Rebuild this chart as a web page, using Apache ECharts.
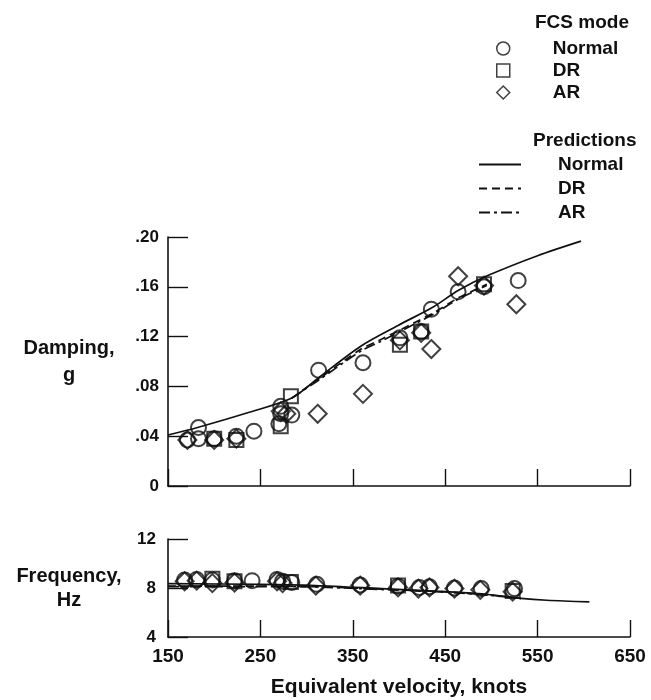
<!DOCTYPE html>
<html>
<head>
<meta charset="utf-8">
<script src="https://cdn.jsdelivr.net/npm/echarts@6/dist/echarts.min.js"></script>
<style>
  html, body { margin: 0; padding: 0; background: #fff; }
  #chart { width: 651px; height: 700px; }
</style>
</head>
<body>
<div id="chart"></div>
<script>
// flight test points, [equivalent velocity (knots), damping (g)]
const dampNormal = [[171,0.037],[183,0.047],[183,0.038],[200,0.038],[224,0.040],[243,0.044],[272,0.064],[272,0.058],[270,0.050],[284,0.057],[313,0.093],[361,0.099],[401,0.119],[424,0.124],[435,0.142],[464,0.156],[492,0.160],[529,0.165]];
const dampDR = [[200,0.038],[224,0.037],[272,0.048],[283,0.072],[401,0.1135],[424,0.124],[492,0.162]];
const dampAR = [[171,0.037],[200,0.037],[224,0.038],[272,0.060],[278,0.058],[312,0.058],[361,0.074],[401,0.117],[424,0.123],[435,0.110],[464,0.1685],[492,0.161],[527,0.146]];

// [equivalent velocity (knots), frequency (Hz)]
const freqNormal = [[168,8.65],[181,8.7],[198,8.65],[222,8.6],[241,8.6],[268,8.7],[274,8.55],[284,8.45],[311,8.3],[358,8.25],[399,8.15],[422,8.05],[433,8.1],[460,8.0],[489,7.95],[525,7.95]];
const freqDR = [[198,8.75],[222,8.55],[283,8.5],[399,8.2],[523,7.75]];
const freqAR = [[168,8.55],[181,8.6],[198,8.4],[222,8.45],[268,8.55],[274,8.4],[310,8.2],[358,8.2],[399,8.05],[421,7.95],[433,8.05],[460,7.95],[488,7.85],[523,7.7]];

// predictions
const predDampNormal = [[150,0.041],[182,0.047],[237,0.059],[284,0.0706],[313,0.087],[359,0.1125],[399,0.129],[437,0.1438],[464,0.157],[496,0.169],[550,0.185],[597,0.1967]];
const predDampDR = [[284,0.0706],[313,0.086],[359,0.110],[380,0.1175],[437,0.139],[464,0.151],[495,0.162]];
const predDampAR = [[284,0.0706],[313,0.085],[359,0.1085],[380,0.116],[437,0.138],[464,0.150],[495,0.161]];
const predFreqNormal = [[150,8.35],[250,8.3],[310,8.2],[381,7.95],[450,7.7],[499,7.45],[532,7.15],[560,7.0],[606,6.87]];
const predFreqDR = [[150,8.15],[250,8.15],[310,8.1],[381,7.9],[450,7.68],[499,7.42],[532,7.15]];
const predFreqAR = [[150,8.12],[250,8.12],[310,8.08],[381,7.88],[450,7.66],[499,7.4],[532,7.13]];

const FONT = "'Liberation Sans', Arial, sans-serif";
const INK = '#111';

const chart = echarts.init(document.getElementById('chart'), null, { renderer: 'canvas' });

function pts(name, data, symbol, size, xi) {
  return {
    name: name, type: 'scatter', data: data, xAxisIndex: xi, yAxisIndex: xi,
    symbol: symbol, symbolSize: size, z: 5,
    itemStyle: { color: 'rgba(0,0,0,0)', borderColor: INK, borderWidth: 2 }
  };
}
function pred(name, data, type, xi) {
  return {
    name: name, type: 'line', data: data, xAxisIndex: xi, yAxisIndex: xi,
    symbol: 'none', smooth: 0.3, z: 3, color: INK,
    lineStyle: { color: INK, width: 1.7, type: type }
  };
}
const DASH = [8, 5];
const DASHDOT = [11, 4, 3, 4];

const xCommon = {
  type: 'value', min: 150, max: 650, interval: 100,
  splitLine: { show: false },
  axisLine: { lineStyle: { color: INK, width: 1.6 } },
  axisTick: { inside: true, length: 17, lineStyle: { color: INK, width: 1.4 } }
};
const txt = (size) => ({ fontSize: size, fontWeight: 'bold', color: INK, fontFamily: FONT });

chart.setOption({
  animation: false,
  textStyle: { fontFamily: FONT, color: INK },
  title: [
    { text: 'FCS mode', left: 530, top: 8, textStyle: txt(19) },
    { text: 'Predictions', left: 528, top: 126, textStyle: txt(19) }
  ],
  legend: [
    {
      data: ['FCS Normal', 'FCS DR', 'FCS AR'],
      orient: 'vertical', left: 491, top: 34, itemGap: 3,
      itemWidth: 13, itemHeight: 13,
      itemStyle: { borderWidth: 1.5 },
      formatter: n => n.replace('FCS ', ''),
      textStyle: Object.assign(txt(19), { padding: [0, 0, 0, 38] })
    },
    {
      data: ['Pred Normal', 'Pred DR', 'Pred AR'],
      orient: 'vertical', left: 473, top: 150, itemGap: 5,
      itemWidth: 42, itemHeight: 14,
      itemStyle: { color: 'rgba(0,0,0,0)', borderWidth: 0, opacity: 0 },
      formatter: n => n.replace('Pred ', ''),
      textStyle: Object.assign(txt(19), { padding: [0, 0, 0, 32] })
    }
  ],
  grid: [
    { left: 168, right: 21, top: 237, height: 249 },
    { left: 168, right: 21, top: 539, height: 98 }
  ],
  xAxis: [
    Object.assign({ gridIndex: 0, axisLabel: { show: false } }, xCommon),
    Object.assign({
      gridIndex: 1,
      axisLabel: Object.assign(txt(19), { margin: 10 }),
      name: 'Equivalent velocity, knots', nameLocation: 'middle', nameGap: 40,
      nameTextStyle: txt(21)
    }, xCommon)
  ],
  yAxis: [
    {
      gridIndex: 0, type: 'value', min: 0, max: 0.2, interval: 0.04,
      splitLine: { show: false },
      axisLine: { show: true, lineStyle: { color: INK, width: 1.6 } },
      axisTick: { show: true, inside: true, length: 20, lineStyle: { color: INK, width: 1.4 } },
      axisLabel: Object.assign(txt(17), {
        margin: 9,
        formatter: v => v === 0 ? '0' : v.toFixed(2).replace(/^0/, '')
      }),
      name: 'Damping,\ng', nameLocation: 'middle', nameRotate: 0, nameGap: 99,
      nameTextStyle: Object.assign(txt(20), { align: 'center', verticalAlign: 'middle', lineHeight: 27 })
    },
    {
      gridIndex: 1, type: 'value', min: 4, max: 12, interval: 4,
      splitLine: { show: false },
      axisLine: { show: true, lineStyle: { color: INK, width: 1.6 } },
      axisTick: { show: true, inside: true, length: 20, lineStyle: { color: INK, width: 1.4 } },
      axisLabel: Object.assign(txt(17), { margin: 12 }),
      name: 'Frequency,\nHz', nameLocation: 'middle', nameRotate: 0, nameGap: 99,
      nameTextStyle: Object.assign(txt(20), { align: 'center', verticalAlign: 'middle', lineHeight: 24 })
    }
  ],
  series: [
    pred('Pred Normal', predDampNormal, 'solid', 0),
    pred('Pred DR', predDampDR, DASH, 0),
    pred('Pred AR', predDampAR, DASHDOT, 0),
    pred('Pred Normal', predFreqNormal, 'solid', 1),
    pred('Pred DR', predFreqDR, DASH, 1),
    pred('Pred AR', predFreqAR, DASHDOT, 1),
    pts('FCS Normal', dampNormal, 'circle', 15, 0),
    pts('FCS DR', dampDR, 'rect', 14, 0),
    pts('FCS AR', dampAR, 'diamond', 18, 0),
    pts('FCS Normal', freqNormal, 'circle', 15, 1),
    pts('FCS DR', freqDR, 'rect', 14, 1),
    pts('FCS AR', freqAR, 'diamond', 18, 1)
  ]
});
</script>
</body>
</html>
